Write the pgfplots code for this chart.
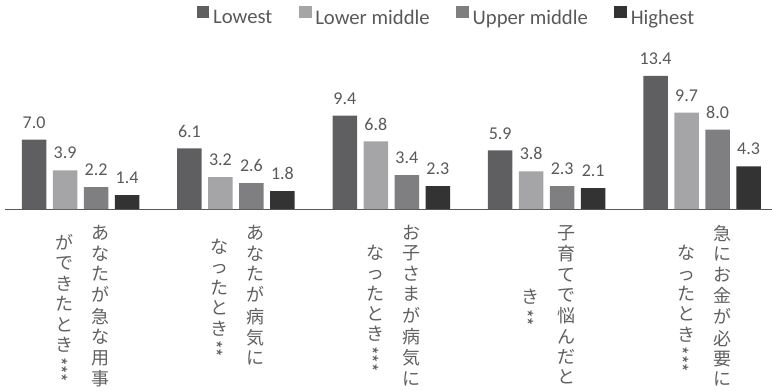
\documentclass[border=0pt]{standalone}
\usepackage{fontspec}
\setmainfont{Carlito}
\newfontfamily\cjk{Noto Sans CJK JP}
\usepackage{graphicx}
\usepackage{pgfplots}
\pgfplotsset{compat=1.18}

\definecolor{cLow}{RGB}{95,95,97}
\definecolor{cLowMid}{RGB}{165,165,167}
\definecolor{cUpMid}{RGB}{127,127,129}
\definecolor{cHigh}{RGB}{51,51,51}
\definecolor{txt}{RGB}{89,89,89}
\definecolor{cjktxt}{RGB}{96,96,96}

% vertical (tategaki) category labels: one character per row,
% the first column on the right, columns centred on each other
\newcommand{\vcol}[1]{\begin{tabular}{@{}c@{}}#1\end{tabular}}
\newcommand{\vpair}[2]{\begin{tabular}{@{}c@{\hspace{18bp}}c@{}}\vcol{#2}&\vcol{#1}\end{tabular}}
% significance marks set sideways, running down the column
\newcommand{\vmark}[1]{\\[-15bp]\hspace*{-0.45em}\rotatebox{-90}{#1}}

\newcommand{\labA}{\vpair{あ\\な\\た\\が\\急\\な\\用\\事}{が\\で\\き\\た\\と\\き\vmark{***}}}
\newcommand{\labB}{\vpair{あ\\な\\た\\が\\病\\気\\に}{な\\っ\\た\\と\\き\vmark{**}}}
\newcommand{\labC}{\vpair{お\\子\\さ\\ま\\が\\病\\気\\に}{な\\っ\\た\\と\\き\vmark{***}}}
\newcommand{\labD}{\vpair{子\\育\\て\\で\\悩\\ん\\だ\\と}{き\vmark{**}}}
\newcommand{\labE}{\vpair{急\\に\\お\\金\\が\\必\\要\\に}{な\\っ\\た\\と\\き\vmark{***}}}

\begin{document}
\begin{tikzpicture}
\useasboundingbox (0,0) rectangle (772bp,391bp);
\begin{axis}[
  at={(5bp,182bp)}, anchor=south west,
  scale only axis, width=770bp, height=139bp,
  xmin=-0.486, xmax=4.469, ymin=0, ymax=14,
  ybar=6.5bp, bar width=24.5bp,
  axis x line=bottom, axis y line=none,
  x axis line style={-, draw=txt, line width=0.9bp},
  xtick={0,1,2,3,4},
  xticklabels={\labA,\labB,\labC,\labD,\labE},
  major tick length=0pt,
  xticklabel style={font=\cjk\fontsize{18bp}{20.4bp}\selectfont, text=cjktxt,
    anchor=north, inner sep=0pt, yshift=-16bp, xshift=2bp},
  ytick=\empty,
  clip=false,
  /pgf/number format/assume math mode=true,
  nodes near coords={\pgfmathprintnumber[fixed,fixed zerofill,precision=1]{\pgfplotspointmeta}},
  every node near coord/.append style={font=\fontsize{18bp}{20bp}\selectfont,
    text=txt, anchor=south, inner sep=0pt, yshift=11bp},
  legend columns=4,
  legend image code/.code={\fill[#1] (0bp,0bp) rectangle (12.7bp,11.3bp);},
  legend style={at={(0.249,1.457)}, anchor=north west, draw=none, fill=none,
    font=\fontsize{20.7bp}{24bp}\selectfont, text=txt,
    inner sep=0pt, outer sep=0pt, nodes={inner sep=0pt},
    /tikz/every odd column/.append style={column sep=3.7bp},
    /tikz/every even column/.append style={column sep=26.5bp}},
]
\addplot[fill=cLow, draw=none] coordinates {(0,7.0) (1,6.1) (2,9.4) (3,5.9) (4,13.4)};
\addplot[fill=cLowMid, draw=none] coordinates {(0,3.9) (1,3.2) (2,6.8) (3,3.8) (4,9.7)};
\addplot[fill=cUpMid, draw=none] coordinates {(0,2.2) (1,2.6) (2,3.4) (3,2.3) (4,8.0)};
\addplot[fill=cHigh, draw=none] coordinates {(0,1.4) (1,1.8) (2,2.3) (3,2.1) (4,4.3)};
\legend{Lowest, Lower middle, Upper middle, Highest}
\end{axis}
\end{tikzpicture}
\end{document}
